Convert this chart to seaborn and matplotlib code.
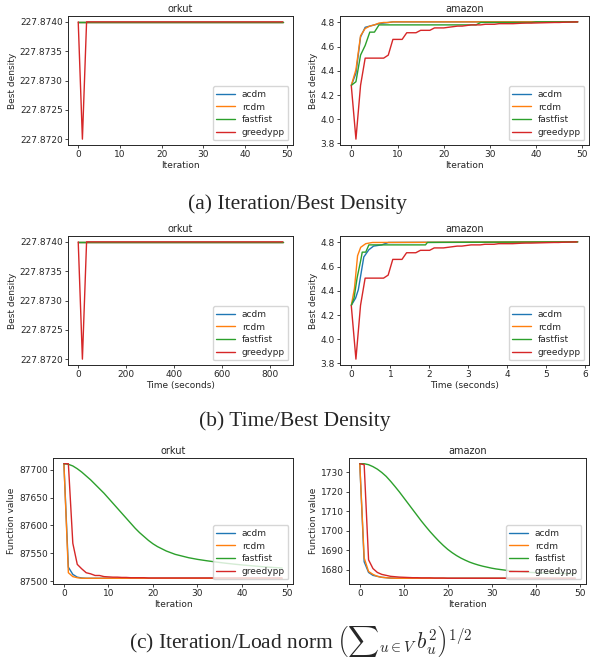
import numpy as np
import pandas as pd
import seaborn as sns
import matplotlib.pyplot as plt
from matplotlib.ticker import FormatStrFormatter, MultipleLocator

sns.set_style("ticks")
plt.rcParams['font.family'] = ['DejaVu Sans']
plt.rcParams['mathtext.fontset'] = 'cm'

methods = ['acdm', 'rcdm', 'fastfist', 'greedypp']
colors = ['#1f77b4', '#ff7f0e', '#2ca02c', '#d62728']
iters = list(range(50))

# --- best density per iteration ---
orkut_best = {
    'acdm': [227.874] * 50,
    'rcdm': [227.874] * 50,
    'fastfist': [227.874] * 50,
    'greedypp': [227.874, 227.872] + [227.874] * 48,
}
amazon_best = {
    'acdm': [4.28, 4.38, 4.68, 4.76, 4.77, 4.78, 4.79, 4.795, 4.80] + [4.805] * 41,
    'rcdm': [4.28, 4.41, 4.69, 4.75, 4.77, 4.78, 4.795, 4.80, 4.80] + [4.805] * 41,
    'fastfist': [4.28, 4.31, 4.53, 4.61, 4.72, 4.72] + [4.78] * 22 + [4.80] * 12 + [4.805] * 10,
    'greedypp': [4.275, 3.835, 4.28, 4.505, 4.505, 4.505, 4.505, 4.505, 4.53, 4.66,
                 4.66, 4.66, 4.715, 4.715, 4.715, 4.735, 4.735, 4.735, 4.755, 4.755,
                 4.755, 4.76, 4.765, 4.77, 4.77, 4.775, 4.78, 4.78, 4.78, 4.785,
                 4.785, 4.785, 4.79, 4.79, 4.79, 4.79, 4.792, 4.794, 4.795, 4.795,
                 4.796, 4.797, 4.798, 4.799, 4.80, 4.80, 4.802, 4.803, 4.804, 4.805],
}

# --- timings ---
orkut_secs_per_iter = 17.4
amazon_time = {
    'acdm': [0, 0.11, 0.18, 0.32, 0.45, 0.57, 0.78, 0.95, 5.8],
    'rcdm': [0, 0.08, 0.16, 0.24, 0.37, 0.54, 5.8],
    'fastfist': [0, 0.07, 0.15, 0.24, 0.28, 0.37, 0.45, 1.9, 1.95, 5.8],
}
amazon_time_best = {
    'acdm': [4.28, 4.34, 4.41, 4.68, 4.74, 4.77, 4.78, 4.80, 4.805],
    'rcdm': [4.28, 4.42, 4.69, 4.76, 4.79, 4.80, 4.805],
    'fastfist': [4.28, 4.34, 4.51, 4.65, 4.72, 4.72, 4.78, 4.78, 4.80, 4.805],
}
greedypp_secs_per_iter = 0.118

# --- load norm per iteration ---
orkut_fval = {
    'acdm': [87711, 87525, 87512, 87507, 87505.5] + [87505] * 45,
    'rcdm': [87711, 87515, 87508, 87506] + [87505] * 46,
    'fastfist': [87711, 87710, 87707, 87702, 87696, 87689, 87682, 87674, 87666, 87658,
                 87649, 87640, 87631, 87622, 87613, 87604, 87595, 87587, 87580, 87573,
                 87567, 87562, 87558, 87554, 87551, 87548, 87546, 87544, 87542, 87540.5,
                 87539, 87537.8, 87536.6, 87535.5, 87534.4, 87533.4, 87532.4, 87531.5, 87530.6, 87529.8,
                 87529, 87528.3, 87527.6, 87526.9, 87526.2, 87525.6, 87525, 87524.4, 87523.9, 87523.4],
    'greedypp': [87711, 87711, 87568, 87530, 87522, 87515, 87513, 87510, 87510, 87508,
                 87507.5, 87507, 87507, 87506.5, 87506.5, 87506, 87506, 87506, 87506, 87505.5]
                + [87505.5] * 30,
}
amazon_fval = {
    'acdm': [1734.5, 1684, 1678.5, 1677, 1676.5, 1676, 1675.8, 1675.6] + [1675.5] * 42,
    'rcdm': [1734.5, 1686, 1679, 1677.5, 1676.5, 1676, 1675.8, 1675.6] + [1675.5] * 42,
    'fastfist': [1734.5, 1734.5, 1734, 1733, 1731.7, 1730, 1728, 1725.5, 1722.8, 1720,
                 1717, 1714, 1711, 1708, 1705, 1702.2, 1699.5, 1697, 1694.6, 1692.4,
                 1690.4, 1688.7, 1687.2, 1685.9, 1684.8, 1683.8, 1683, 1682.3, 1681.7, 1681.2,
                 1680.7, 1680.3, 1680, 1679.7, 1679.4, 1679.2, 1679, 1678.8, 1678.6, 1678.5,
                 1678.4, 1678.3, 1678.2, 1678.1, 1678.05, 1678, 1677.95, 1677.9, 1677.85, 1677.8],
    'greedypp': [1734.5, 1734, 1685, 1680.5, 1678.5, 1677.5, 1677, 1676.5, 1676.3, 1676.1,
                 1676, 1675.9, 1675.8, 1675.8, 1675.7, 1675.7, 1675.7, 1675.6, 1675.6, 1675.6]
                + [1675.5] * 30,
}


def long_df(xs, ys):
    rows = []
    for m in methods:
        for x, y in zip(xs[m], ys[m]):
            rows.append([x, y, m])
    return pd.DataFrame(rows, columns=['x', 'y', 'method'])


def draw(ax, df, title, xlabel, ylabel):
    sns.lineplot(data=df, x='x', y='y', hue='method', hue_order=methods,
                 palette=colors, linewidth=1.0, ax=ax, sort=False)
    ax.set_title(title, fontsize=7, pad=3)
    ax.set_xlabel(xlabel, fontsize=6.5, labelpad=1)
    ax.set_ylabel(ylabel, fontsize=6.5, labelpad=2)
    ax.tick_params(labelsize=6.5, length=2.3, width=0.6, pad=1.5)
    for s in ax.spines.values():
        s.set_linewidth(0.7)
    sns.move_legend(ax, 'lower right', title=None, fontsize=6.5,
                    frameon=True, handlelength=2.0, borderpad=0.4, labelspacing=0.4)


iter_x = {m: iters for m in methods}
orkut_t = {m: [i * orkut_secs_per_iter for i in iters] for m in methods}
amazon_t = dict(amazon_time)
amazon_t['greedypp'] = [i * greedypp_secs_per_iter for i in iters]
amazon_tb = dict(amazon_time_best)
amazon_tb['greedypp'] = amazon_best['greedypp']

W, H = 592, 661
fig = plt.figure(figsize=(W / 100, H / 100), dpi=100)


def axes_px(x0, x1, y0, y1):
    return fig.add_axes([x0 / W, 1 - y1 / H, (x1 - x0) / W, (y1 - y0) / H])


ax = axes_px(68, 293, 16, 145)
draw(ax, long_df(iter_x, orkut_best), 'orkut', 'Iteration', 'Best density')
ax.yaxis.set_major_formatter(FormatStrFormatter('%.4f'))
ax = axes_px(340, 589, 16, 145)
draw(ax, long_df(iter_x, amazon_best), 'amazon', 'Iteration', 'Best density')

ax = axes_px(68, 293, 236, 365)
draw(ax, long_df(orkut_t, orkut_best), 'orkut', 'Time (seconds)', 'Best density')
ax.yaxis.set_major_formatter(FormatStrFormatter('%.4f'))
ax = axes_px(340, 589, 236, 365)
draw(ax, long_df(amazon_t, amazon_tb), 'amazon', 'Time (seconds)', 'Best density')

ax = axes_px(53, 293, 458, 584)
draw(ax, long_df(iter_x, orkut_fval), 'orkut', 'Iteration', 'Function value')
ax = axes_px(349, 586, 458, 584)
draw(ax, long_df(iter_x, amazon_fval), 'amazon', 'Iteration', 'Function value')
ax.yaxis.set_major_locator(MultipleLocator(10))

cap = dict(ha='center', va='center', fontsize=15.5, family='Liberation Serif')
fig.text(297 / W, 1 - 204 / H, '(a) Iteration/Best Density', **cap)
fig.text(295 / W, 1 - 421 / H, '(b) Time/Best Density', **cap)
fig.text(301 / W, 1 - 641 / H,
         r'(c) Iteration/Load norm $\left({\sum}_{u\in V}\, b_u^2\right)^{1/2}$', **cap)

fig.savefig('out.png', dpi=100)
